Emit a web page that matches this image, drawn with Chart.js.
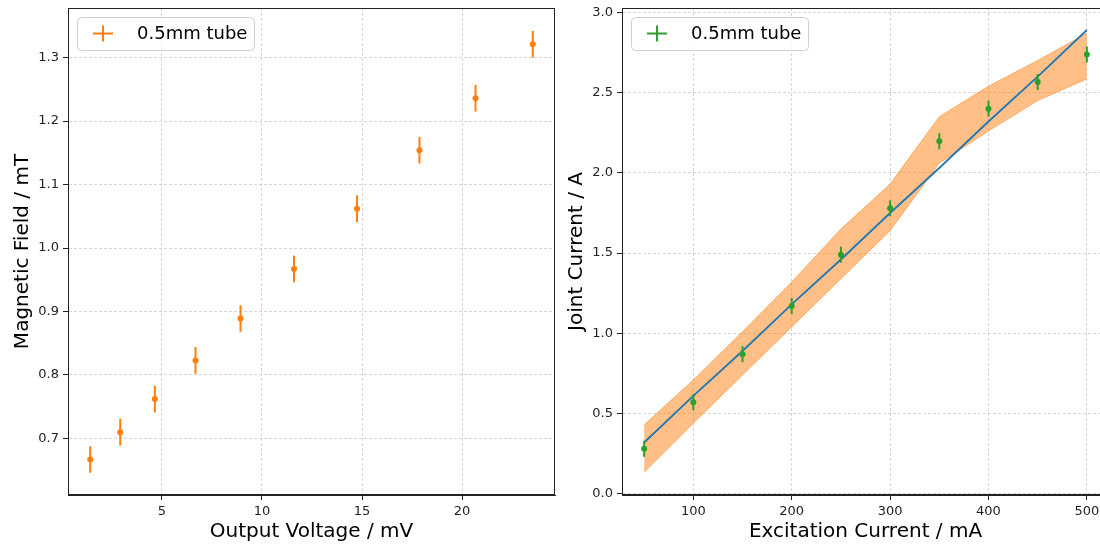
<!DOCTYPE html>
<html>
<head>
<meta charset="utf-8">
<script src="https://cdn.jsdelivr.net/npm/chart.js@4/dist/chart.umd.min.js"></script>
<style>
  html, body { margin: 0; padding: 0; background: #fff; overflow: hidden; }
  #wrap { position: relative; width: 1100px; height: 545px; overflow: hidden; }
  #chart_field { position: absolute; left: 0; top: 0; }
  #chart_joint { position: absolute; left: 560px; top: 0; }
</style>
</head>
<body>
<div id="wrap">
  <canvas id="chart_field" width="560" height="545"></canvas>
  <canvas id="chart_joint" width="560" height="545"></canvas>
</div>
<script>
// left panel: hall probe calibration
const voltage = [1.42, 2.92, 4.65, 6.68, 8.93, 11.6, 14.75, 17.87, 20.67, 23.53];
const field = [0.667, 0.710, 0.762, 0.823, 0.889, 0.967, 1.062, 1.154, 1.236, 1.321];
const fieldErr = [0.021, 0.021, 0.021, 0.021, 0.021, 0.021, 0.021, 0.021, 0.021, 0.021];
const voltageTicks = [5, 10, 15, 20];
const fieldTicks = [0.7, 0.8, 0.9, 1.0, 1.1, 1.2, 1.3];

// right panel: joint current vs excitation current
const excitation = [50, 100, 150, 200, 250, 300, 350, 400, 450, 500];
const joint = [0.281, 0.571, 0.870, 1.170, 1.490, 1.779, 2.197, 2.400, 2.566, 2.737];
const jointErr = [0.05, 0.05, 0.05, 0.05, 0.05, 0.05, 0.05, 0.05, 0.05, 0.05];
const fitLine = [0.32, 0.61, 0.89, 1.18, 1.46, 1.75, 2.03, 2.32, 2.60, 2.89];
const bandUpper = [0.43, 0.71, 1.01, 1.32, 1.65, 1.93, 2.35, 2.54, 2.70, 2.87];
const bandLower = [0.135, 0.44, 0.74, 1.04, 1.34, 1.64, 2.06, 2.26, 2.45, 2.585];
const excitationTicks = [100, 200, 300, 400, 500];
const jointTicks = [0.0, 0.5, 1.0, 1.5, 2.0, 2.5, 3.0];

const legendLabel = "0.5mm tube";
const FONT = "'DejaVu Sans', sans-serif";

function toPoints(xs, ys) {
  return xs.map((x, i) => ({ x: x, y: ys[i] }));
}

// vertical error bars drawn through the chart's own scales
const errorBars = {
  id: 'errorBars',
  afterDatasetsDraw(chart) {
    const ctx = chart.ctx;
    const xs = chart.scales.x;
    const ys = chart.scales.y;
    chart.data.datasets.forEach(ds => {
      if (!ds.errY) return;
      ctx.save();
      ctx.strokeStyle = ds.borderColor;
      ctx.lineWidth = 2;
      ds.data.forEach((p, i) => {
        const px = xs.getPixelForValue(p.x);
        ctx.beginPath();
        ctx.moveTo(px, ys.getPixelForValue(p.y - ds.errY[i]));
        ctx.lineTo(px, ys.getPixelForValue(p.y + ds.errY[i]));
        ctx.stroke();
      });
      ctx.restore();
    });
  }
};

// matplotlib style box + legend in upper left
const frameAndLegend = {
  id: 'frameAndLegend',
  afterDraw(chart) {
    const ctx = chart.ctx;
    const a = chart.chartArea;
    ctx.save();
    ctx.strokeStyle = '#222';
    ctx.lineWidth = 1;
    ctx.strokeRect(a.left + 0.5, a.top + 0.5, a.right - a.left - 1, a.bottom - a.top - 1);

    const ds = chart.data.datasets.find(d => d.errY);
    const bx = a.left + 9, by = a.top + 9, bw = 177, bh = 33;
    ctx.beginPath();
    ctx.roundRect(bx + 0.5, by + 0.5, bw, bh, 4);
    ctx.fillStyle = 'rgba(255,255,255,0.8)';
    ctx.fill();
    ctx.strokeStyle = '#d0d0d0';
    ctx.stroke();

    const mx = bx + 26, my = by + 16.5;
    ctx.strokeStyle = ds.borderColor;
    ctx.lineWidth = 2;
    ctx.beginPath();
    ctx.moveTo(mx - 10, my); ctx.lineTo(mx + 10, my);
    ctx.moveTo(mx, my - 8); ctx.lineTo(mx, my + 8);
    ctx.stroke();

    ctx.fillStyle = '#000';
    ctx.font = '18px ' + FONT;
    ctx.textBaseline = 'middle';
    ctx.textAlign = 'left';
    ctx.fillText(ds.label, bx + 60, my + 1);
    ctx.restore();
  }
};

function axis(min, max, tickValues, title, decimals, isY, size, titlePad) {
  return {
    type: 'linear',
    min: min,
    max: max,
    afterBuildTicks: (s) => { s.ticks = tickValues.map(v => ({ value: v })); },
    afterFit: (s) => {
      if (isY) s.width = size; else s.height = size;
      s.paddingTop = 0; s.paddingBottom = 0;
      s.paddingLeft = 0; s.paddingRight = 0;
    },
    ticks: {
      color: '#222',
      font: { family: FONT, size: 13 },
      padding: 4,
      maxRotation: 0,
      autoSkip: false,
      callback: (v) => decimals ? Number(v).toFixed(decimals) : String(v)
    },
    grid: {
      color: '#cccccc',
      lineWidth: 0.8,
      tickColor: '#222',
      tickLength: 5,
      tickWidth: 1
    },
    border: { color: '#222', width: 1, dash: [3, 2] },
    title: {
      display: true,
      text: title,
      color: '#000',
      font: { family: FONT, size: 20 },
      padding: { top: titlePad, bottom: titlePad }
    }
  };
}

new Chart(document.getElementById('chart_field'), {
  type: 'scatter',
  data: {
    datasets: [{
      label: legendLabel,
      data: toPoints(voltage, field),
      errY: fieldErr,
      borderColor: '#ff7f0e',
      backgroundColor: '#ff7f0e',
      pointRadius: 3,
      pointBorderWidth: 0
    }]
  },
  options: {
    responsive: false,
    animation: false,
    layout: { padding: { top: 8, right: 5, left: 0, bottom: 0 } },
    plugins: { legend: { display: false }, tooltip: { enabled: false } },
    scales: {
      x: axis(0.31, 24.64, voltageTicks, 'Output Voltage / mV', 0, false, 50, 1),
      y: axis(0.611, 1.378, fieldTicks, 'Magnetic Field / mT', 1, true, 68, 11)
    }
  },
  plugins: [errorBars, frameAndLegend]
});

new Chart(document.getElementById('chart_joint'), {
  type: 'scatter',
  data: {
    datasets: [
      {
        label: 'band lower',
        data: toPoints(excitation, bandLower),
        showLine: true,
        pointRadius: 0,
        borderColor: 'rgba(255,127,14,0.5)',
        borderWidth: 1,
        fill: false,
        order: 3
      },
      {
        label: 'band upper',
        data: toPoints(excitation, bandUpper),
        showLine: true,
        pointRadius: 0,
        borderColor: 'rgba(255,127,14,0.5)',
        borderWidth: 1,
        backgroundColor: 'rgba(255,127,14,0.5)',
        fill: '-1',
        order: 2
      },
      {
        label: 'fit',
        data: toPoints(excitation, fitLine),
        showLine: true,
        pointRadius: 0,
        borderColor: '#1f77b4',
        borderWidth: 1.8,
        fill: false,
        order: 1
      },
      {
        label: legendLabel,
        data: toPoints(excitation, joint),
        errY: jointErr,
        borderColor: '#2ca02c',
        backgroundColor: '#2ca02c',
        pointRadius: 3,
        pointBorderWidth: 0,
        order: 0
      }
    ]
  },
  options: {
    responsive: false,
    animation: false,
    layout: { padding: { top: 8, right: 11, left: 0, bottom: 0 } },
    plugins: { legend: { display: false }, tooltip: { enabled: false } },
    scales: {
      x: axis(27.5, 522.5, excitationTicks, 'Excitation Current / mA', 0, false, 50, 1),
      y: axis(-0.007, 3.027, jointTicks, 'Joint Current / A', 1, true, 62, 5)
    }
  },
  plugins: [errorBars, frameAndLegend]
});
</script>
</body>
</html>
